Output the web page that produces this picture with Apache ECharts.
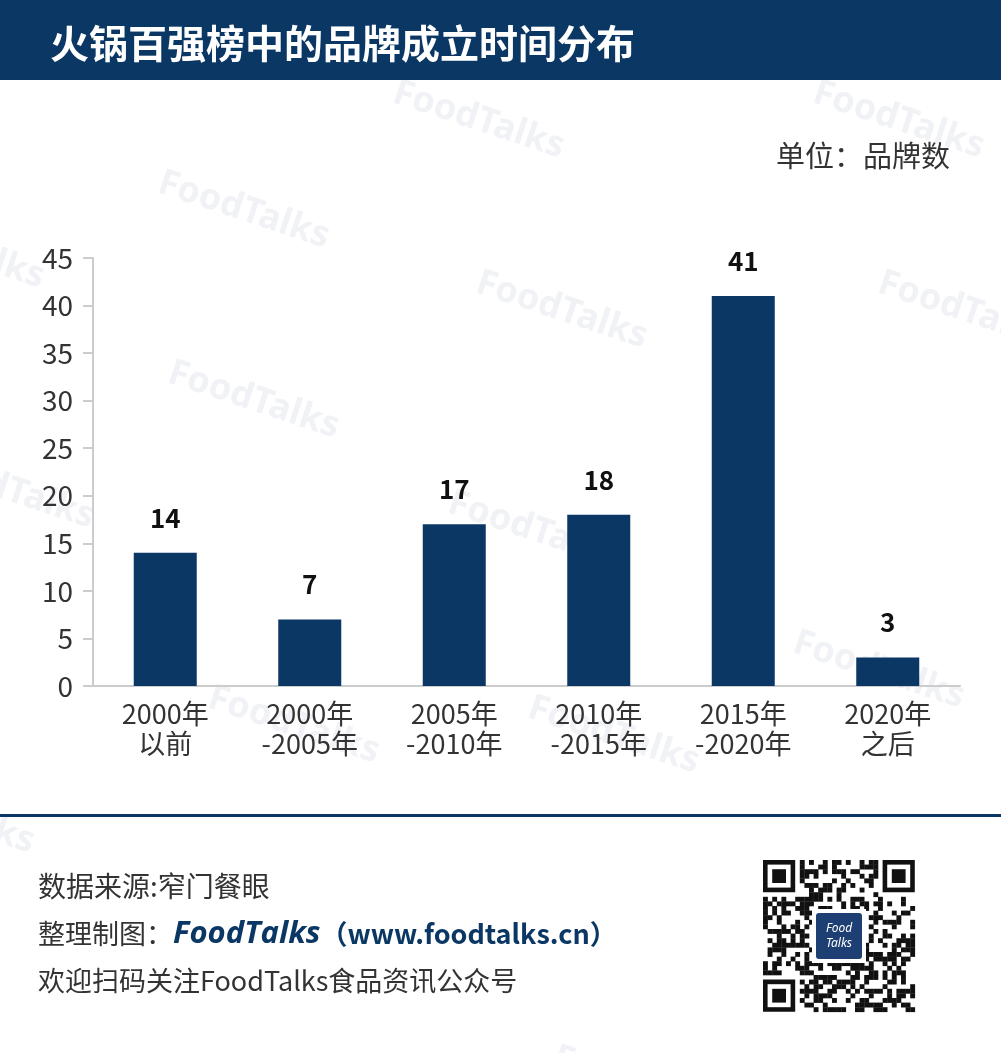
<!DOCTYPE html>
<html>
<head>
<meta charset="utf-8">
<script src="https://cdn.jsdelivr.net/npm/echarts@6/dist/echarts.min.js"></script>
<style>
html,body{margin:0;padding:0;background:#fff;}
#chart{width:1001px;height:1053px;}
</style>
</head>
<body>
<div id="chart"></div>
<script>
const categories = ['2000年\n以前', '2000年\n-2005年', '2005年\n-2010年', '2010年\n-2015年', '2015年\n-2020年', '2020年\n之后'];
const brandCounts = [14, 7, 17, 18, 41, 3];
const yTicks = {min: 0, max: 45, interval: 5};
const titleText = '火锅百强榜中的品牌成立时间分布';
const unitText = '单位：品牌数';

const NAVY = '#0b3764';
const FONT = '"Noto Sans CJK SC", "Noto Sans", sans-serif';

// decorative watermark positions
const watermarks = [[400,75],[820,75],[165,165],[-120,205],[483,265],[885,265],[175,355],[-70,445],[455,485],[800,625],[215,680],[535,690],[-130,770],[560,1040]];
const wmGraphics = watermarks.map(p => ({
  type: 'text', x: p[0], y: p[1], rotation: -0.32, z: 0, silent: true,
  style: {text: 'FoodTalks', fill: '#f0f2f6', font: 'bold 36px "Noto Sans", sans-serif', textAlign: 'left', textVerticalAlign: 'top'}
}));

// decorative QR-like code
const qrX = 763, qrY = 860, mod = 4.6, N = 33;
const qrChildren = [];
function finder(cx, cy) {
  qrChildren.push({type:'rect', shape:{x:cx, y:cy, width:7*mod, height:7*mod}, style:{fill:'#111'}});
  qrChildren.push({type:'rect', shape:{x:cx+mod, y:cy+mod, width:5*mod, height:5*mod}, style:{fill:'#fff'}});
  qrChildren.push({type:'rect', shape:{x:cx+2*mod, y:cy+2*mod, width:3*mod, height:3*mod}, style:{fill:'#111'}});
}
function inFinder(i,j){ return (i<8&&j<8)||(i<8&&j>=N-8)||(i>=N-8&&j<8); }
for (let i=0;i<N;i++) for (let j=0;j<N;j++) {
  if (inFinder(i,j)) continue;
  const h = ((i*73856093) ^ (j*19349663) ^ (i*j*83492791)) >>> 0;
  if ((h % 100) < 50) qrChildren.push({type:'rect', shape:{x:qrX+j*mod, y:qrY+i*mod, width:mod+0.3, height:mod+0.3}, style:{fill:'#111'}});
}
finder(qrX, qrY); finder(qrX+(N-7)*mod, qrY); finder(qrX, qrY+(N-7)*mod);
qrChildren.push({type:'rect', shape:{x:812, y:909, width:54, height:54}, style:{fill:'#fff'}});
qrChildren.push({type:'rect', shape:{x:816, y:913, width:46, height:46, r:3}, style:{fill:'#1d3f73'}});
qrChildren.push({type:'text', x:839, y:936, style:{text:'Food\nTalks', fill:'#fff', font:'italic 12px "Noto Sans", sans-serif', textAlign:'center', textVerticalAlign:'middle', lineHeight:15}});

const chart = echarts.init(document.getElementById('chart'), null, {renderer: 'canvas'});
chart.setOption({
  backgroundColor: '#fff',
  animation: false,
  grid: {left: 93, right: 41, top: 258, bottom: 367, containLabel: false},
  xAxis: {
    type: 'category', data: categories,
    axisLine: {show: true, lineStyle: {color: '#cccccc', width: 2}},
    axisTick: {show: false},
    axisLabel: {color: '#333', fontSize: 27, fontFamily: FONT, lineHeight: 30, margin: 13, interval: 0}
  },
  yAxis: {
    type: 'value', min: yTicks.min, max: yTicks.max, interval: yTicks.interval,
    axisLine: {show: true, lineStyle: {color: '#cccccc', width: 2}},
    axisTick: {show: true, length: 10, lineStyle: {color: '#cccccc', width: 2}},
    splitLine: {show: false},
    axisLabel: {color: '#333', fontSize: 28, fontFamily: FONT, margin: 20}
  },
  series: [{
    type: 'bar', data: brandCounts, barWidth: 63, z: 5,
    itemStyle: {color: NAVY},
    label: {show: true, position: 'top', distance: 22, color: '#111', fontSize: 26, fontWeight: 'bold', fontFamily: FONT}
  }],
  graphic: [
    ...wmGraphics,
    {type: 'rect', shape: {x: 0, y: 0, width: 1001, height: 80}, style: {fill: NAVY}, z: 10},
    {type: 'text', x: 50, y: 43, z: 11, style: {text: titleText, fill: '#fff', font: 'bold 39px ' + FONT, textVerticalAlign: 'middle'}},
    {type: 'text', x: 950, y: 156, z: 11, style: {text: unitText, fill: '#333', font: '29px ' + FONT, textAlign: 'right', textVerticalAlign: 'middle'}},
    {type: 'rect', shape: {x: 0, y: 814, width: 1001, height: 3}, style: {fill: NAVY}, z: 10},
    {type: 'text', x: 38, y: 886, z: 11, style: {text: '数据来源:窄门餐眼', fill: '#333', font: '28px ' + FONT, textVerticalAlign: 'middle'}},
    {type: 'text', x: 38, y: 934, z: 11, style: {
      text: '{a|整理制图：}{b|FoodTalks}{c|（www.foodtalks.cn）}', textVerticalAlign: 'middle',
      rich: {
        a: {fill: '#333', fontSize: 27, fontFamily: FONT},
        b: {fill: NAVY, fontSize: 31, fontWeight: 'bold', fontStyle: 'italic', fontFamily: '"Open Sans", sans-serif'},
        c: {fill: NAVY, fontSize: 27, fontWeight: 'bold', fontFamily: FONT}
      }
    }},
    {type: 'text', x: 38, y: 981, z: 11, style: {text: '欢迎扫码关注FoodTalks食品资讯公众号', fill: '#333', font: '27px ' + FONT, textVerticalAlign: 'middle'}},
    {type: 'group', z: 11, children: qrChildren}
  ]
});
</script>
</body>
</html>
